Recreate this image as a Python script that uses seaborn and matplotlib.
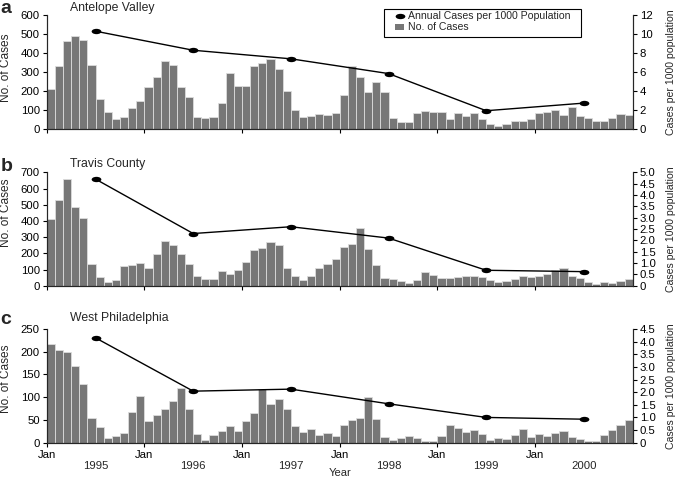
import numpy as np
import pandas as pd
import matplotlib
matplotlib.use("Agg")
import matplotlib.pyplot as plt
import seaborn as sns
from matplotlib.path import Path
from matplotlib.transforms import Affine2D
from matplotlib.lines import Line2D
from matplotlib.patches import Patch, Rectangle

# ---------------- data ----------------
years = ["1995", "1996", "1997", "1998", "1999", "2000"]
jan_label = "Jan"

av_cases = [210, 330, 462, 492, 470, 340, 160, 90, 52, 63, 113, 150,
            224, 272, 357, 336, 224, 172, 66, 58, 65, 138, 298, 226,
            226, 332, 346, 370, 318, 202, 100, 63, 69, 78, 74, 85,
            180, 330, 275, 195, 250, 195, 60, 40, 40, 85, 95, 90,
            92, 55, 85, 72, 85, 55, 27, 15, 28, 42, 42, 55,
            85, 93, 102, 75, 115, 70, 58, 45, 45, 60, 80, 75]
av_rate = [10.3, 8.3, 7.4, 5.85, 1.95, 2.75]

tc_cases = [410, 527, 658, 486, 418, 132, 51, 23, 33, 119, 130, 140,
            109, 198, 278, 251, 198, 132, 60, 39, 39, 88, 72, 95,
            146, 222, 235, 267, 253, 109, 58, 37, 62, 111, 136, 167,
            238, 259, 357, 224, 126, 49, 39, 28, 17, 35, 87, 66,
            49, 49, 56, 59, 59, 53, 38, 21, 31, 39, 59, 53,
            59, 70, 98, 109, 59, 49, 21, 10, 21, 18, 28, 39]
tc_rate = [4.7, 2.3, 2.6, 2.1, 0.68, 0.62]

wp_cases = [217, 203, 200, 169, 128, 54, 34, 10, 15, 22, 68, 102,
            48, 62, 73, 91, 120, 73, 19, 6, 18, 25, 37, 26,
            48, 65, 118, 84, 97, 74, 37, 23, 31, 17, 21, 14,
            40, 49, 54, 100, 53, 12, 6, 10, 14, 10, 4, 4,
            14, 40, 32, 23, 28, 19, 7, 10, 8, 17, 31, 12,
            19, 14, 22, 25, 12, 8, 4, 4, 17, 27, 39, 50]
wp_rate = [4.15, 2.04, 2.12, 1.54, 1.0, 0.93]

# ---------------- style ----------------
sns.set_theme(style="ticks")
plt.rcParams["font.family"] = ["Liberation Sans", "DejaVu Sans"]
plt.rcParams["axes.linewidth"] = 0.8

W, H = 677, 478
fig = plt.figure(figsize=(W / 100, H / 100), dpi=100)

BAR_COLOR = "#777777"
EDGE_COLOR = "#dcdcdc"
TICK_FS = 8.2

ell = Path.unit_circle().transformed(Affine2D().scale(1.0, 0.55))

n_months = len(av_cases)
month_pos = np.arange(n_months) + 0.5
year_pos = np.arange(len(years)) * 12 + 6
jan_pos = np.arange(len(years)) * 12

LEFT, RIGHT = 46.7, 632.7

panels = [
    dict(letter="a", title="Antelope Valley", cases=av_cases, rate=av_rate,
         top=15.0, bottom=129.3, ymax=600, ystep=100, rmax=12, rstep=2,
         rfmt=lambda v: f"{v:.0f}", ylab_y=68, letter_base=13, title_base=11.5),
    dict(letter="b", title="Travis County", cases=tc_cases, rate=tc_rate,
         top=172.3, bottom=285.7, ymax=700, ystep=100, rmax=5.0, rstep=0.5,
         rfmt=lambda v: "0" if v == 0 else f"{v:.1f}", ylab_y=213, letter_base=171, title_base=167.5),
    dict(letter="c", title="West Philadelphia", cases=wp_cases, rate=wp_rate,
         top=329.0, bottom=442.7, ymax=250, ystep=50, rmax=4.5, rstep=0.5,
         rfmt=lambda v: "0" if v == 0 else f"{v:.1f}", ylab_y=379, letter_base=324, title_base=321),
]

for i, p in enumerate(panels):
    ax = fig.add_axes([LEFT / W, 1 - p["bottom"] / H, (RIGHT - LEFT) / W,
                       (p["bottom"] - p["top"]) / H])
    df = pd.DataFrame({"month": month_pos, "cases": p["cases"]})
    sns.barplot(data=df, x="month", y="cases", ax=ax, native_scale=True,
                color=BAR_COLOR, saturation=1, width=1.0,
                edgecolor=EDGE_COLOR, linewidth=0.6)
    ax.set_xlim(0, n_months)
    ax.set_ylim(0, p["ymax"])
    ax.set_yticks(np.arange(0, p["ymax"] + 1, p["ystep"]))
    ax.set_xlabel("")
    ax.set_ylabel("")
    ax.spines["top"].set_visible(False)
    ax.set_xticks(jan_pos)
    if i == 2:
        ax.set_xticklabels([jan_label] * len(jan_pos))
        ax.set_xticks(year_pos, minor=True)
        ax.set_xticklabels(years, minor=True)
        ax.tick_params(axis="x", which="minor", length=0, pad=13.5, labelsize=TICK_FS)
    else:
        ax.set_xticklabels([])
    ax.tick_params(axis="both", which="major", direction="out", length=3,
                   width=0.8, pad=2.0, labelsize=TICK_FS, colors="black")

    ax2 = ax.twinx()
    rdf = pd.DataFrame({"pos": year_pos, "rate": p["rate"]})
    sns.lineplot(data=rdf, x="pos", y="rate", ax=ax2, color="black",
                 linewidth=1.0, marker=ell, markersize=7, markeredgewidth=0,
                 markerfacecolor="black")
    ax2.set_ylim(0, p["rmax"])
    rt = np.round(np.arange(0, p["rmax"] + 1e-9, p["rstep"]), 2)
    ax2.set_yticks(rt)
    ax2.set_yticklabels([p["rfmt"](v) for v in rt])
    ax2.set_xlim(0, n_months)
    ax2.set_xlabel("")
    ax2.set_ylabel("")
    ax2.spines["top"].set_visible(False)
    ax2.tick_params(axis="y", direction="out", length=3, width=0.8, pad=2.0,
                    labelsize=TICK_FS, colors="black")

    # labels
    fig.text(6 / W, 1 - p["ylab_y"] / H, "No. of Cases", rotation=90,
             ha="center", va="center", fontsize=8.6)
    fig.text(671 / W, 1 - (p["top"] + p["bottom"]) / 2 / H,
             "Cases per 1000 population", rotation=90, ha="center",
             va="center", fontsize=7.6)
    fig.text(0.5 / W, 1 - p["letter_base"] / H, p["letter"], fontsize=14,
             fontweight="bold", ha="left", va="baseline")
    fig.text(70 / W, 1 - p["title_base"] / H, p["title"], fontsize=8.8,
             ha="left", va="baseline")

# x label
fig.text(339.7 / W, 1 - 468.5 / H, "Year", ha="center", va="top", fontsize=8)

# legend with hand-placed frame
fig.patches.append(Rectangle((384 / W, 1 - 36.7 / H), (581 - 384) / W,
                             (36.7 - 9.3) / H, transform=fig.transFigure,
                             facecolor="white", edgecolor="black",
                             linewidth=0.8, zorder=3))
handles = [Line2D([], [], color="black", marker=ell, markersize=7,
                  linestyle="none", markeredgewidth=0),
           Patch(facecolor=BAR_COLOR, edgecolor="none")]
leg = fig.legend(handles, ["Annual Cases per 1000 Population", "No. of Cases"],
                 loc="upper left", bbox_to_anchor=(395 / W, 1 - 11.0 / H),
                 frameon=False, fontsize=7.6, borderpad=0, borderaxespad=0,
                 handlelength=0.9, handleheight=0.5, handletextpad=0.35,
                 labelspacing=0.12)
leg.set_zorder(4)

fig.savefig("out.png", dpi=100)
